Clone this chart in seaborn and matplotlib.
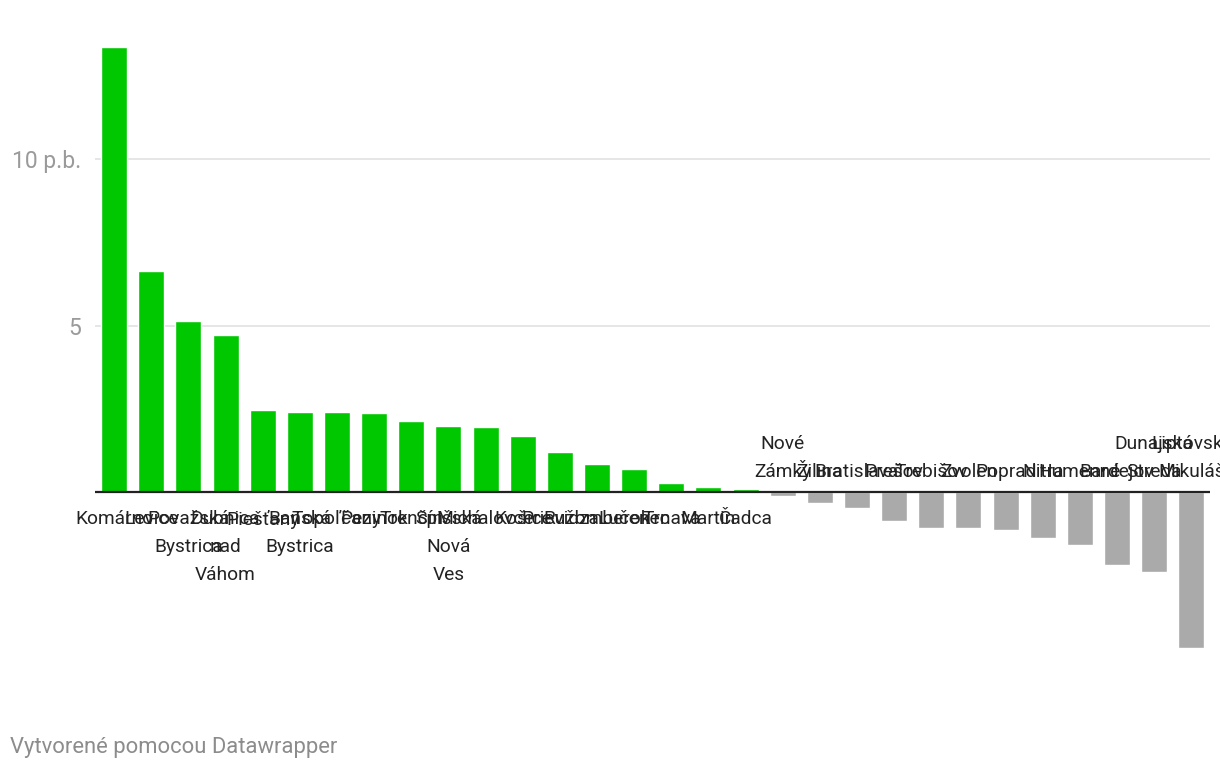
import matplotlib
matplotlib.use("Agg")
import matplotlib.pyplot as plt
import seaborn as sns

# districts, sorted by change (percentage points)
towns = ["Komárno", "Levice", "Považská Bystrica", "Dubnica nad Váhom", "Piešťany",
         "Banská Bystrica", "Topoľčany", "Pezinok", "Trenčín", "Spišská Nová Ves",
         "Michalovce", "Košice", "Prievidza", "Ružomberok", "Lučenec", "Trnava",
         "Martin", "Čadca", "Nové Zámky", "Žilina", "Bratislava", "Prešov",
         "Trebišov", "Zvolen", "Poprad", "Nitra", "Humenné", "Bardejov",
         "Dunajská Streda", "Liptovský Mikuláš"]
change = [13.36, 6.64, 5.13, 4.71, 2.46, 2.40, 2.40, 2.37, 2.13, 1.98,
          1.95, 1.68, 1.20, 0.84, 0.69, 0.27, 0.15, 0.09, -0.12, -0.33,
          -0.48, -0.87, -1.08, -1.08, -1.14, -1.38, -1.59, -2.19, -2.40, -4.68]

GREEN = "#00c800"
GREY = "#aaaaaa"

sns.set_style("white")
plt.rcParams["font.family"] = ["Roboto", "DejaVu Sans"]

fig = plt.figure(figsize=(12.2, 7.68), dpi=100)
ax = fig.add_axes([0.078, 0.0885, 0.914, 0.872])

colors = [GREEN if v >= 0 else GREY for v in change]
sns.barplot(x=towns, y=change, hue=towns, palette=colors, legend=False,
            width=0.7, saturation=1, ax=ax)

ax.set_ylim(-6.25, 13.87)
ax.set_xlim(-0.51, 29.51)

# grid + zero line
for g in [5, 10]:
    ax.axhline(g, color="#e1e1e1", lw=1.2, zorder=0)
ax.axhline(0, color="#222222", lw=1.6, zorder=3)

ax.set_yticks([5, 10])
ax.set_yticklabels(["5", "10 p.b."])
ax.tick_params(axis="y", length=0, pad=10, labelsize=16.5, labelcolor="#9a9a9a")
ax.set_xticks([])
ax.set_xlabel("")
ax.set_ylabel("")
sns.despine(ax=ax, left=True, bottom=True)

# labels under / over zero line
for i, (name, v) in enumerate(zip(towns, change)):
    label = name.replace(" ", "\n")
    if v >= 0:
        ax.annotate(label, (i, 0), xytext=(0, -13), textcoords="offset points",
                    ha="center", va="top", fontsize=13.8, color="#222222",
                    linespacing=1.72)
    else:
        ax.annotate(label, (i, 0), xytext=(0, 8), textcoords="offset points",
                    ha="center", va="bottom", fontsize=13.8, color="#222222",
                    linespacing=1.72)

fig.text(0.008, 0.027, "Vytvorené pomocou Datawrapper", fontsize=15.8,
         color="#8c8c8c", ha="left", va="center")

fig.savefig("out.png", dpi=100)
